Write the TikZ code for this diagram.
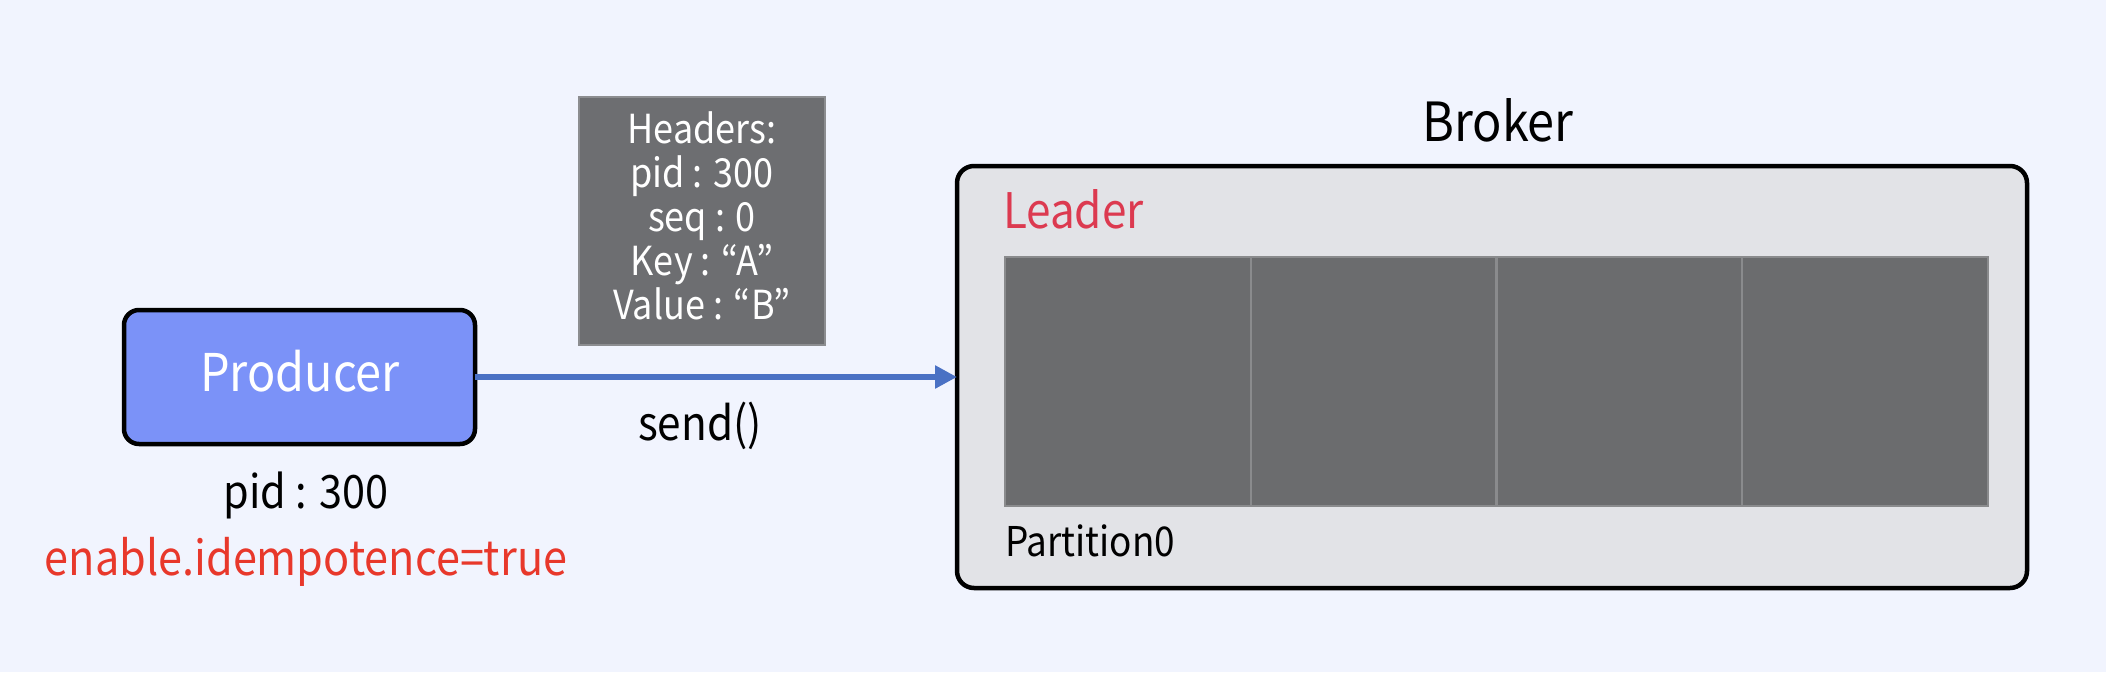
\documentclass[tikz,border=0pt]{standalone}
\usepackage{fontspec}
\setmainfont[FakeStretch=0.9]{Noto Sans CJK KR}
\usetikzlibrary{arrows.meta}
\definecolor{bg}{HTML}{F1F4FE}
\definecolor{prodfill}{HTML}{7B92F8}
\definecolor{hdrfill}{HTML}{6D6E71}
\definecolor{hdrline}{HTML}{8C8D90}
\definecolor{brokerfill}{HTML}{E2E3E7}
\definecolor{partfill}{HTML}{6B6C6E}
\definecolor{partline}{HTML}{8A8B8D}
\definecolor{leaderred}{HTML}{DC3A50}
\definecolor{enablered}{HTML}{E8382B}
\definecolor{arrowblue}{HTML}{4A71C4}
\tikzset{
  txt/.style={inner sep=0pt, outer sep=0pt, anchor=base},
  pxbox/.style={draw, rounded corners=15pt, line width=4.5pt, inner sep=0pt, outer sep=0pt},
  cellbox/.style={fill=partfill, draw=partline, line width=2pt, inner sep=0pt, outer sep=0pt, minimum width=245.75pt, minimum height=249pt},
}
\begin{document}
\begin{tikzpicture}[x=1pt,y=-1pt]
\fill[bg] (0,0) rectangle (2106,672);
\useasboundingbox (0,0) rectangle (2106,672);
% Producer
\node[pxbox, fill=prodfill, minimum width=351pt, minimum height=134pt] (prod) at (299.5,377) {};
\node[txt, text=white, font=\fontsize{52}{60}\selectfont] (prodt) at (300,391) {Producer};
\node[txt, font=\fontsize{46}{54}\selectfont] (pid) at (306,508) {pid : 300};
\node[txt, text=enablered, font=\fontsize{48}{54}\selectfont] (idem) at (306,575) {enable.idempotence=true};
% Headers
\node[fill=hdrfill, draw=hdrline, line width=2pt, minimum width=246pt, minimum height=248pt, inner sep=0pt] (hdr) at (702,221) {};
\begin{scope}[every node/.style={txt, text=white, font=\fontsize{40}{44}\selectfont}]
\node (h1) at (702,143) {Headers:};
\node (h2) at (702,187) {pid : 300};
\node (h3) at (702,231) {seq : 0};
\node (h4) at (702,275) {Key : “A”};
\node (h5) at (702,319) {Value : “B”};
\end{scope}
% Broker
\node[txt, font=\fontsize{54}{60}\selectfont] (brokert) at (1498,141) {Broker};
\node[pxbox, fill=brokerfill, minimum width=1070pt, minimum height=422pt, rounded corners=17pt] (broker) at (1492,377) {};
\node[txt, anchor=base west, text=leaderred, font=\fontsize{49}{56}\selectfont] (leader) at (1003,228) {Leader};
\node[cellbox] (c1) at (1127.9,381.5) {};
\node[cellbox] (c2) at (1373.6,381.5) {};
\node[cellbox] (c3) at (1619.4,381.5) {};
\node[cellbox] (c4) at (1865.1,381.5) {};
\node[txt, anchor=base west, font=\fontsize{41}{46}\selectfont] (part) at (1005,556) {Partition0};
% arrow
\draw[arrowblue, line width=6pt, -{Triangle[length=22pt, width=22pt]}] (prod.east) -- (broker.west);
\node[txt, font=\fontsize{47}{54}\selectfont] (send) at (700,440) {send()};
\end{tikzpicture}
\end{document}
